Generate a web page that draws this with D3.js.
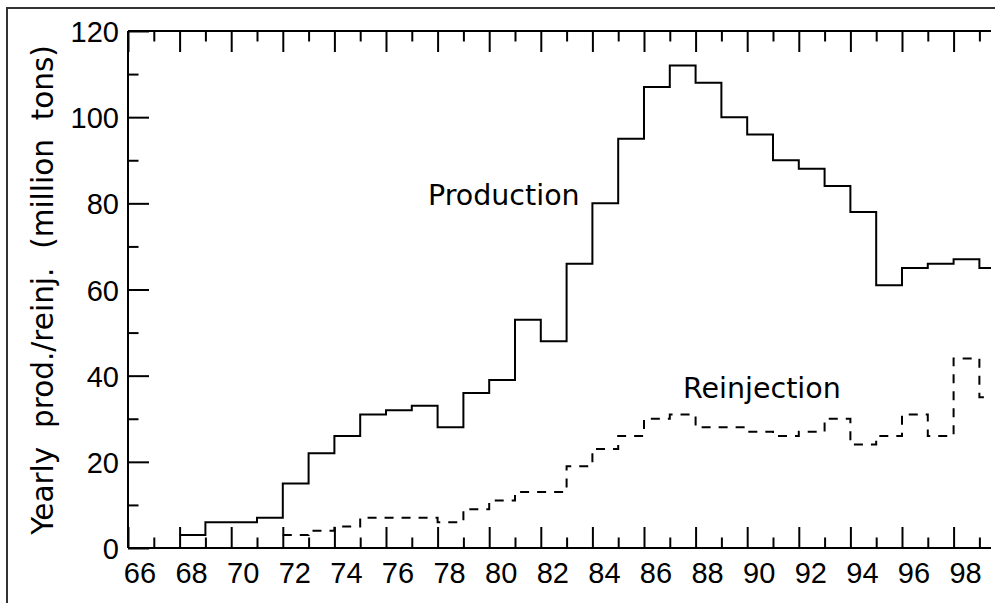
<!DOCTYPE html>
<head>
  <meta charset="utf-8">
  <title>Yearly production / reinjection</title>
  <script src="https://d3js.org/d3.v7.min.js"></script>
  <style>
    body { margin: 0; background: #fff; }
    svg text { fill: #000; }
  </style>
</head>
<body>
  <div id="chart"></div>
  <script>
    // years (each value holds from that year to the next)
    var prodYears = d3.range(68, 100);
    var production = [3, 6, 6, 7, 15, 22, 26, 31, 32, 33, 28, 36, 39, 53, 48, 66,
                      80, 95, 107, 112, 108, 100, 96, 90, 88, 84, 78, 61, 65, 66, 67, 65];
    var reinjYears = d3.range(72, 100);
    var reinjection = [3, 4, 5, 7, 7, 7, 6, 9, 11, 13, 13, 19, 23, 26, 30, 31,
                       28, 28, 27, 26, 27, 30, 24, 26, 31, 26, 44, 35];
    var xTickLabels = d3.range(66, 100, 2);
    var yTickLabels = [0, 20, 40, 60, 80, 100, 120];

    draw();

    function draw() {
      var width = 995, height = 603;
      var plotLeft = 128, plotRight = 991, plotTop = 31, plotBottom = 548;

      var svg = d3.select('#chart').append('svg')
        .attr('width', width)
        .attr('height', height);

      // outer frame (only its left and top edges fall inside the picture)
      svg.append('rect')
        .attr('x', 7).attr('y', 8)
        .attr('width', 1000).attr('height', 700)
        .attr('fill', 'none')
        .attr('stroke', '#333')
        .attr('stroke-width', 2);

      var x = d3.scaleLinear().domain([66, 99.45]).range([plotLeft, plotRight]);
      var y = d3.scaleLinear().domain([0, 120]).range([plotBottom, plotTop]);

      function styleAxis(g) {
        g.select('.domain').remove();
        g.selectAll('line').attr('stroke', '#000').attr('stroke-width', 2);
      }

      var majorX = xTickLabels;
      var minorX = d3.range(67, 100, 2);
      var minorY = d3.range(10, 120, 20);

      // bottom ticks, pointing up
      svg.append('g').attr('transform', 'translate(0,' + plotBottom + ')')
        .call(d3.axisBottom(x).tickValues(majorX).tickSize(-21).tickFormat(''))
        .call(styleAxis);
      svg.append('g').attr('transform', 'translate(0,' + plotBottom + ')')
        .call(d3.axisBottom(x).tickValues(minorX).tickSize(-10.5).tickFormat(''))
        .call(styleAxis);
      // top ticks, pointing down
      svg.append('g').attr('transform', 'translate(0,' + plotTop + ')')
        .call(d3.axisTop(x).tickValues(majorX).tickSize(-21).tickFormat(''))
        .call(styleAxis);
      svg.append('g').attr('transform', 'translate(0,' + plotTop + ')')
        .call(d3.axisTop(x).tickValues(minorX).tickSize(-10.5).tickFormat(''))
        .call(styleAxis);
      // left ticks, pointing right
      svg.append('g').attr('transform', 'translate(' + plotLeft + ',0)')
        .call(d3.axisLeft(y).tickValues(yTickLabels).tickSize(-21).tickFormat(''))
        .call(styleAxis);
      svg.append('g').attr('transform', 'translate(' + plotLeft + ',0)')
        .call(d3.axisLeft(y).tickValues(minorY).tickSize(-10.5).tickFormat(''))
        .call(styleAxis);

      // axis lines: bottom, top, left (no right axis)
      var axisLines = [
        [[plotLeft, plotBottom], [plotRight, plotBottom]],
        [[plotLeft, plotTop], [plotRight, plotTop]],
        [[plotLeft, plotTop], [plotLeft, plotBottom]]
      ];
      svg.append('g').selectAll('path')
        .data(axisLines)
        .enter().append('path')
          .attr('d', d3.line())
          .attr('stroke', '#000')
          .attr('stroke-width', 2)
          .attr('fill', 'none');

      // tick labels
      svg.append('g').selectAll('text')
        .data(xTickLabels)
        .enter().append('text')
          .attr('x', function (d) { return x(d) + 12; })
          .attr('y', 583)
          .attr('text-anchor', 'middle')
          .style('font-family', 'Liberation Sans, Arial, sans-serif')
          .style('font-size', '29px')
          .text(function (d) { return d; });

      svg.append('g').selectAll('text')
        .data(yTickLabels)
        .enter().append('text')
          .attr('x', 119)
          .attr('y', function (d) { return y(d) + 1; })
          .attr('text-anchor', 'end')
          .attr('dominant-baseline', 'central')
          .style('font-family', 'Liberation Sans, Arial, sans-serif')
          .style('font-size', '29px')
          .text(function (d) { return d; });

      // y axis title
      svg.append('text')
        .attr('transform', 'translate(53,290) rotate(-90)')
        .attr('text-anchor', 'middle')
        .style('white-space', 'pre')
        .style('font-family', 'DejaVu Sans, sans-serif')
        .style('font-size', '29.5px')
        .text('Yearly  prod./reinj.  (million  tons)');

      // step lines
      var step = d3.line()
        .x(function (d) { return x(d[0]); })
        .y(function (d) { return y(d[1]); })
        .curve(d3.curveStepAfter);

      function stepPoints(years, values) {
        var pts = years.map(function (yr, i) { return [yr, values[i]]; });
        pts.push([x.domain()[1], values[values.length - 1]]);
        return pts;
      }

      svg.append('path')
        .attr('d', step(stepPoints(prodYears, production)))
        .attr('fill', 'none')
        .attr('stroke', '#000')
        .attr('stroke-width', 2);

      svg.append('path')
        .attr('d', step(stepPoints(reinjYears, reinjection)))
        .attr('fill', 'none')
        .attr('stroke', '#000')
        .attr('stroke-width', 2)
        .attr('stroke-dasharray', '9,8');

      // series labels
      svg.append('text')
        .attr('x', 428).attr('y', 205)
        .style('font-family', 'DejaVu Sans, sans-serif')
        .style('font-size', '28.5px')
        .text('Production');

      svg.append('text')
        .attr('x', 683).attr('y', 398)
        .style('font-family', 'DejaVu Sans, sans-serif')
        .style('font-size', '28.5px')
        .text('Reinjection');
    }
  </script>
</body>
